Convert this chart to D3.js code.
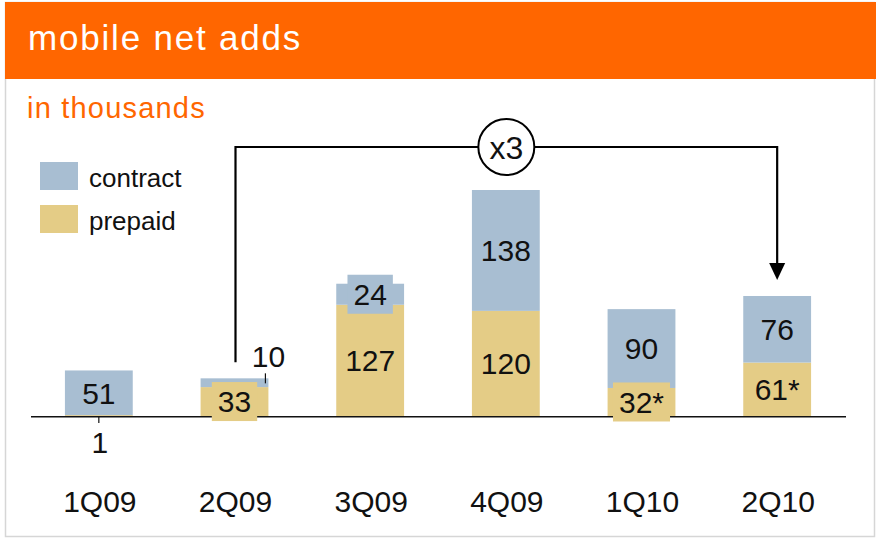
<!DOCTYPE html>
<html lang="en">
<head>
  <meta charset="UTF-8" />
  <title>mobile net adds</title>
  <script src="https://d3js.org/d3.v7.min.js"></script>
  <style>
    html, body {
      margin: 0;
      padding: 0;
      background: #ffffff;
      overflow: hidden;
    }
    svg {
      display: block;
      font-family: 'Liberation Sans', Arial, sans-serif;
    }
    .value {
      font-size: 30px;
      fill: #111;
      text-anchor: middle;
    }
    .cat {
      font-size: 30px;
      fill: #111;
      text-anchor: middle;
    }
  </style>
</head>
<body>
<svg width="876" height="540"></svg>
<script>
const quarters = ["1Q09", "2Q09", "3Q09", "4Q09", "1Q10", "2Q10"];
const prepaid = [1, 33, 127, 120, 32, 61];
const contract = [51, 10, 24, 138, 90, 76];
const prepaidLabels = ["1", "33", "127", "120", "32*", "61*"];
const contractLabels = ["51", "10", "24", "138", "90", "76"];
const seriesNames = ["contract", "prepaid"];
const growthLabel = "x3";

const colors = { contract: "#a8bed2", prepaid: "#e4cc86" };
const orange = "#ff6600";

const svg = d3.select("svg");

// frame + header
svg.append("rect")
  .attr("x", 5.5).attr("y", 2.5)
  .attr("width", 869).attr("height", 534)
  .attr("fill", "#fff")
  .attr("stroke", "#d6d6d6")
  .attr("stroke-width", 1.5);

svg.append("rect")
  .attr("x", 5).attr("y", 2)
  .attr("width", 871).attr("height", 77)
  .attr("fill", orange);

svg.append("text")
  .attr("x", 28).attr("y", 50)
  .attr("fill", "#fff")
  .style("font-size", "35px")
  .style("letter-spacing", "1.8px")
  .text("mobile net adds");

svg.append("text")
  .attr("x", 27).attr("y", 118)
  .attr("fill", orange)
  .style("font-size", "29px")
  .style("letter-spacing", "1.2px")
  .text("in thousands");

// legend
const legend = svg.append("g");
seriesNames.forEach((name, i) => {
  legend.append("rect")
    .attr("x", 40).attr("y", 162 + i * 43)
    .attr("width", 38).attr("height", 28)
    .attr("fill", colors[name]);
  legend.append("text")
    .attr("x", 89).attr("y", 187 + i * 43)
    .attr("fill", "#111")
    .style("font-size", "26px")
    .text(name);
});

// scales
const x = d3.scaleBand()
  .domain(quarters)
  .range([31, 845])
  .paddingInner(0.5)
  .paddingOuter(0.25);

const y = d3.scaleLinear()
  .domain([0, 258])
  .range([416, 190]);

// baseline (drawn first so label boxes sit on top of it)
svg.append("line")
  .attr("x1", x.range()[0]).attr("x2", x.range()[1] + 1)
  .attr("y1", y(0) + 0.8).attr("y2", y(0) + 0.8)
  .attr("stroke", "#111").attr("stroke-width", 1.6);

const rows = quarters.map((q, i) => ({
  q,
  segs: [
    { key: "prepaid", y0: 0, y1: prepaid[i], label: prepaidLabels[i] },
    { key: "contract", y0: prepaid[i], y1: prepaid[i] + contract[i], label: contractLabels[i] }
  ]
}));

const bars = svg.append("g");
rows.forEach(r => {
  const g = bars.append("g");
  const x0 = x(r.q), bw = x.bandwidth(), cx = x0 + bw / 2;
  r.segs.forEach(s => {
    g.append("rect")
      .attr("x", x0)
      .attr("y", y(s.y1))
      .attr("width", bw)
      .attr("height", y(s.y0) - y(s.y1))
      .attr("fill", colors[s.key]);
  });
  r.segs.forEach(s => {
    const h = y(s.y0) - y(s.y1);
    const mid = (y(s.y0) + y(s.y1)) / 2;
    if (h < 5) {
      // tiny bottom segment: label below the axis
      g.append("line")
        .attr("x1", cx).attr("x2", cx)
        .attr("y1", 417).attr("y2", 423)
        .attr("stroke", "#111").attr("stroke-width", 1.2);
      g.append("text").attr("class", "value")
        .attr("x", cx + 1).attr("y", 453)
        .text(s.label);
    } else if (h < 14) {
      // thin top segment: label outside, upper right
      const xr = x0 + bw - 3;
      g.append("line")
        .attr("x1", xr).attr("x2", xr)
        .attr("y1", y(s.y1) + 5).attr("y2", y(s.y1) - 5)
        .attr("stroke", "#111").attr("stroke-width", 1.2);
      g.append("text").attr("class", "value")
        .attr("x", x0 + bw).attr("y", y(s.y1) - 11)
        .text(s.label);
    } else {
      const t = g.append("text").attr("class", "value")
        .attr("x", cx).attr("y", mid)
        .attr("dy", "0.36em")
        .text(s.label);
      if (h < 36) {
        const w = t.node().getComputedTextLength() + 12;
        g.insert("rect", "text")
          .attr("x", cx - w / 2).attr("y", mid - 19.5)
          .attr("width", w).attr("height", 39)
          .attr("fill", colors[s.key]);
      }
    }
  });
});

// category labels
svg.append("g").selectAll("text")
  .data(quarters)
  .join("text")
  .attr("class", "cat")
  .attr("x", d => x(d) + x.bandwidth() / 2 + 1)
  .attr("y", 512)
  .text(d => d);

// growth bracket from 2Q09 to 2Q10
const iFrom = 1, iTo = 5;
const xa = x(quarters[iFrom]) + x.bandwidth() / 2 + 1;
const xb = x(quarters[iTo]) + x.bandwidth() / 2;
const topA = y(prepaid[iFrom] + contract[iFrom]);
const topB = y(prepaid[iTo] + contract[iTo]);
const yTop = 147;

svg.append("path")
  .attr("d", `M${xa},${topA - 16} V${yTop} H${xb} V${topB - 32}`)
  .attr("fill", "none")
  .attr("stroke", "#000")
  .attr("stroke-width", 2.2);

svg.append("path")
  .attr("d", `M${xb - 8},${topB - 33} L${xb + 8},${topB - 33} L${xb},${topB - 16} Z`)
  .attr("fill", "#000");

const cxm = (xa + xb) / 2;
svg.append("circle")
  .attr("cx", cxm).attr("cy", yTop)
  .attr("r", 28)
  .attr("fill", "#fff")
  .attr("stroke", "#000")
  .attr("stroke-width", 2);

svg.append("text")
  .attr("x", cxm).attr("y", yTop)
  .attr("dy", "0.36em")
  .attr("text-anchor", "middle")
  .attr("fill", "#111")
  .style("font-size", "32px")
  .text(growthLabel);
</script>
</body>
</html>
